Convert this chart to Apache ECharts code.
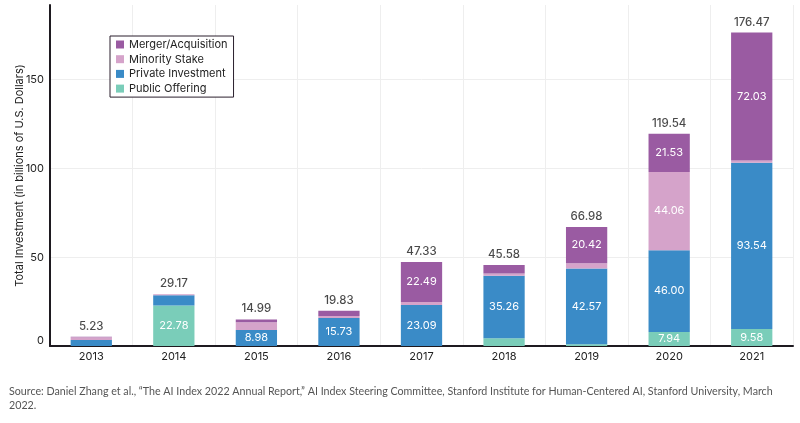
<!DOCTYPE html>
<html>
<head>
<meta charset="utf-8">
<script src="https://cdn.jsdelivr.net/npm/echarts@6/dist/echarts.min.js"></script>
<style>html,body{margin:0;padding:0;background:#fff;}#c{width:800px;height:423px;}</style>
</head>
<body>
<div id="c"></div>
<script>
const years = ['2013','2014','2015','2016','2017','2018','2019','2020','2021'];
const publicOffering = [0, 22.78, 0, 0, 0, 4.30, 1.00, 7.94, 9.58];
const privateInvestment = [3.40, 5.80, 8.98, 15.73, 23.09, 35.26, 42.57, 46.00, 93.54];
const minorityStake = [1.50, 0.59, 4.40, 1.20, 1.75, 1.32, 2.99, 44.06, 1.32];
const mergerAcquisition = [0.33, 0, 1.61, 2.90, 22.49, 4.70, 20.42, 21.53, 72.03];
const totals = [5.23, 29.17, 14.99, 19.83, 47.33, 45.58, 66.98, 119.54, 176.47];
const yTicks = [0, 50, 100, 150];

const FONT = 'Inter, "Noto Sans", sans-serif';
const chart = echarts.init(document.getElementById('c'), null, {renderer: 'canvas'});

function seg(name, data, color) {
  return {
    name: name, type: 'bar', stack: 'total', data: data, barWidth: '50%',
    itemStyle: {color: color},
    label: {
      show: true, position: 'inside', color: '#fff', fontFamily: FONT, fontSize: 11,
      formatter: p => p.value >= 7 ? p.value.toFixed(2) : ''
    },
    emphasis: {disabled: true}
  };
}

chart.setOption({
  animation: false,
  grid: {left: 50, right: 7, top: 5, bottom: 77, containLabel: false, outerBoundsMode: 'none'},
  legend: {
    orient: 'vertical', left: 110, top: 36,
    data: ['Merger/Acquisition', 'Minority Stake', 'Private Investment', 'Public Offering'],
    backgroundColor: '#fff', borderColor: '#2a1f2d', borderWidth: 1,
    padding: [3, 6, 3, 6], itemGap: 3.7, itemWidth: 8, itemHeight: 8,
    icon: 'rect',
    textStyle: {fontFamily: FONT, fontSize: 11, color: '#222'}
  },
  xAxis: {
    type: 'category', data: years,
    axisLine: {lineStyle: {color: '#1e1a20', width: 2}},
    axisTick: {show: false},
    axisLabel: {fontFamily: FONT, fontSize: 11, color: '#222', margin: 5},
    splitLine: {show: true, lineStyle: {color: '#eeeeee', width: 1}}
  },
  yAxis: {
    type: 'value', min: 0, max: 192, interval: 50,
    name: 'Total Investment (in billions of U.S. Dollars)',
    nameLocation: 'middle', nameGap: 25, nameMoveOverlap: false,
    nameTextStyle: {fontFamily: FONT, fontSize: 11, color: '#222'},
    axisLine: {show: true, lineStyle: {color: '#1e1a20', width: 2}},
    axisTick: {show: false},
    axisLabel: {
      fontFamily: FONT, fontSize: 11, color: '#222', margin: 6,
      showMaxLabel: false, verticalAlignMinLabel: 'bottom',
      formatter: v => yTicks.includes(v) ? String(v) : ''
    },
    splitLine: {show: true, showMaxLine: false, lineStyle: {color: '#eeeeee', width: 1}}
  },
  series: [
    seg('Public Offering', publicOffering, '#7acdb9'),
    seg('Private Investment', privateInvestment, '#3a8bc7'),
    seg('Minority Stake', minorityStake, '#d5a3ca'),
    seg('Merger/Acquisition', mergerAcquisition, '#9a5ba2'),
    {
      name: 'Total', type: 'scatter', data: totals, symbolSize: 1,
      itemStyle: {color: 'rgba(0,0,0,0)'},
      label: {show: true, position: 'top', distance: 4, color: '#1a1a1a',
        fontFamily: FONT, fontSize: 11.5, fontWeight: 500,
        formatter: p => p.value.toFixed(2)},
      emphasis: {disabled: true}, z: 5
    }
  ],
  graphic: [{
    type: 'text', left: 9, top: 385,
    style: {
      text: 'Source: Daniel Zhang et al., \u201cThe AI Index 2022 Annual Report,\u201d AI Index Steering Committee, Stanford Institute for Human-Centered AI, Stanford University, March\n2022.',
      fontFamily: 'Lato, sans-serif', fontSize: 10.7, lineHeight: 14, fill: '#555'
    }
  }]
});
</script>
</body>
</html>
